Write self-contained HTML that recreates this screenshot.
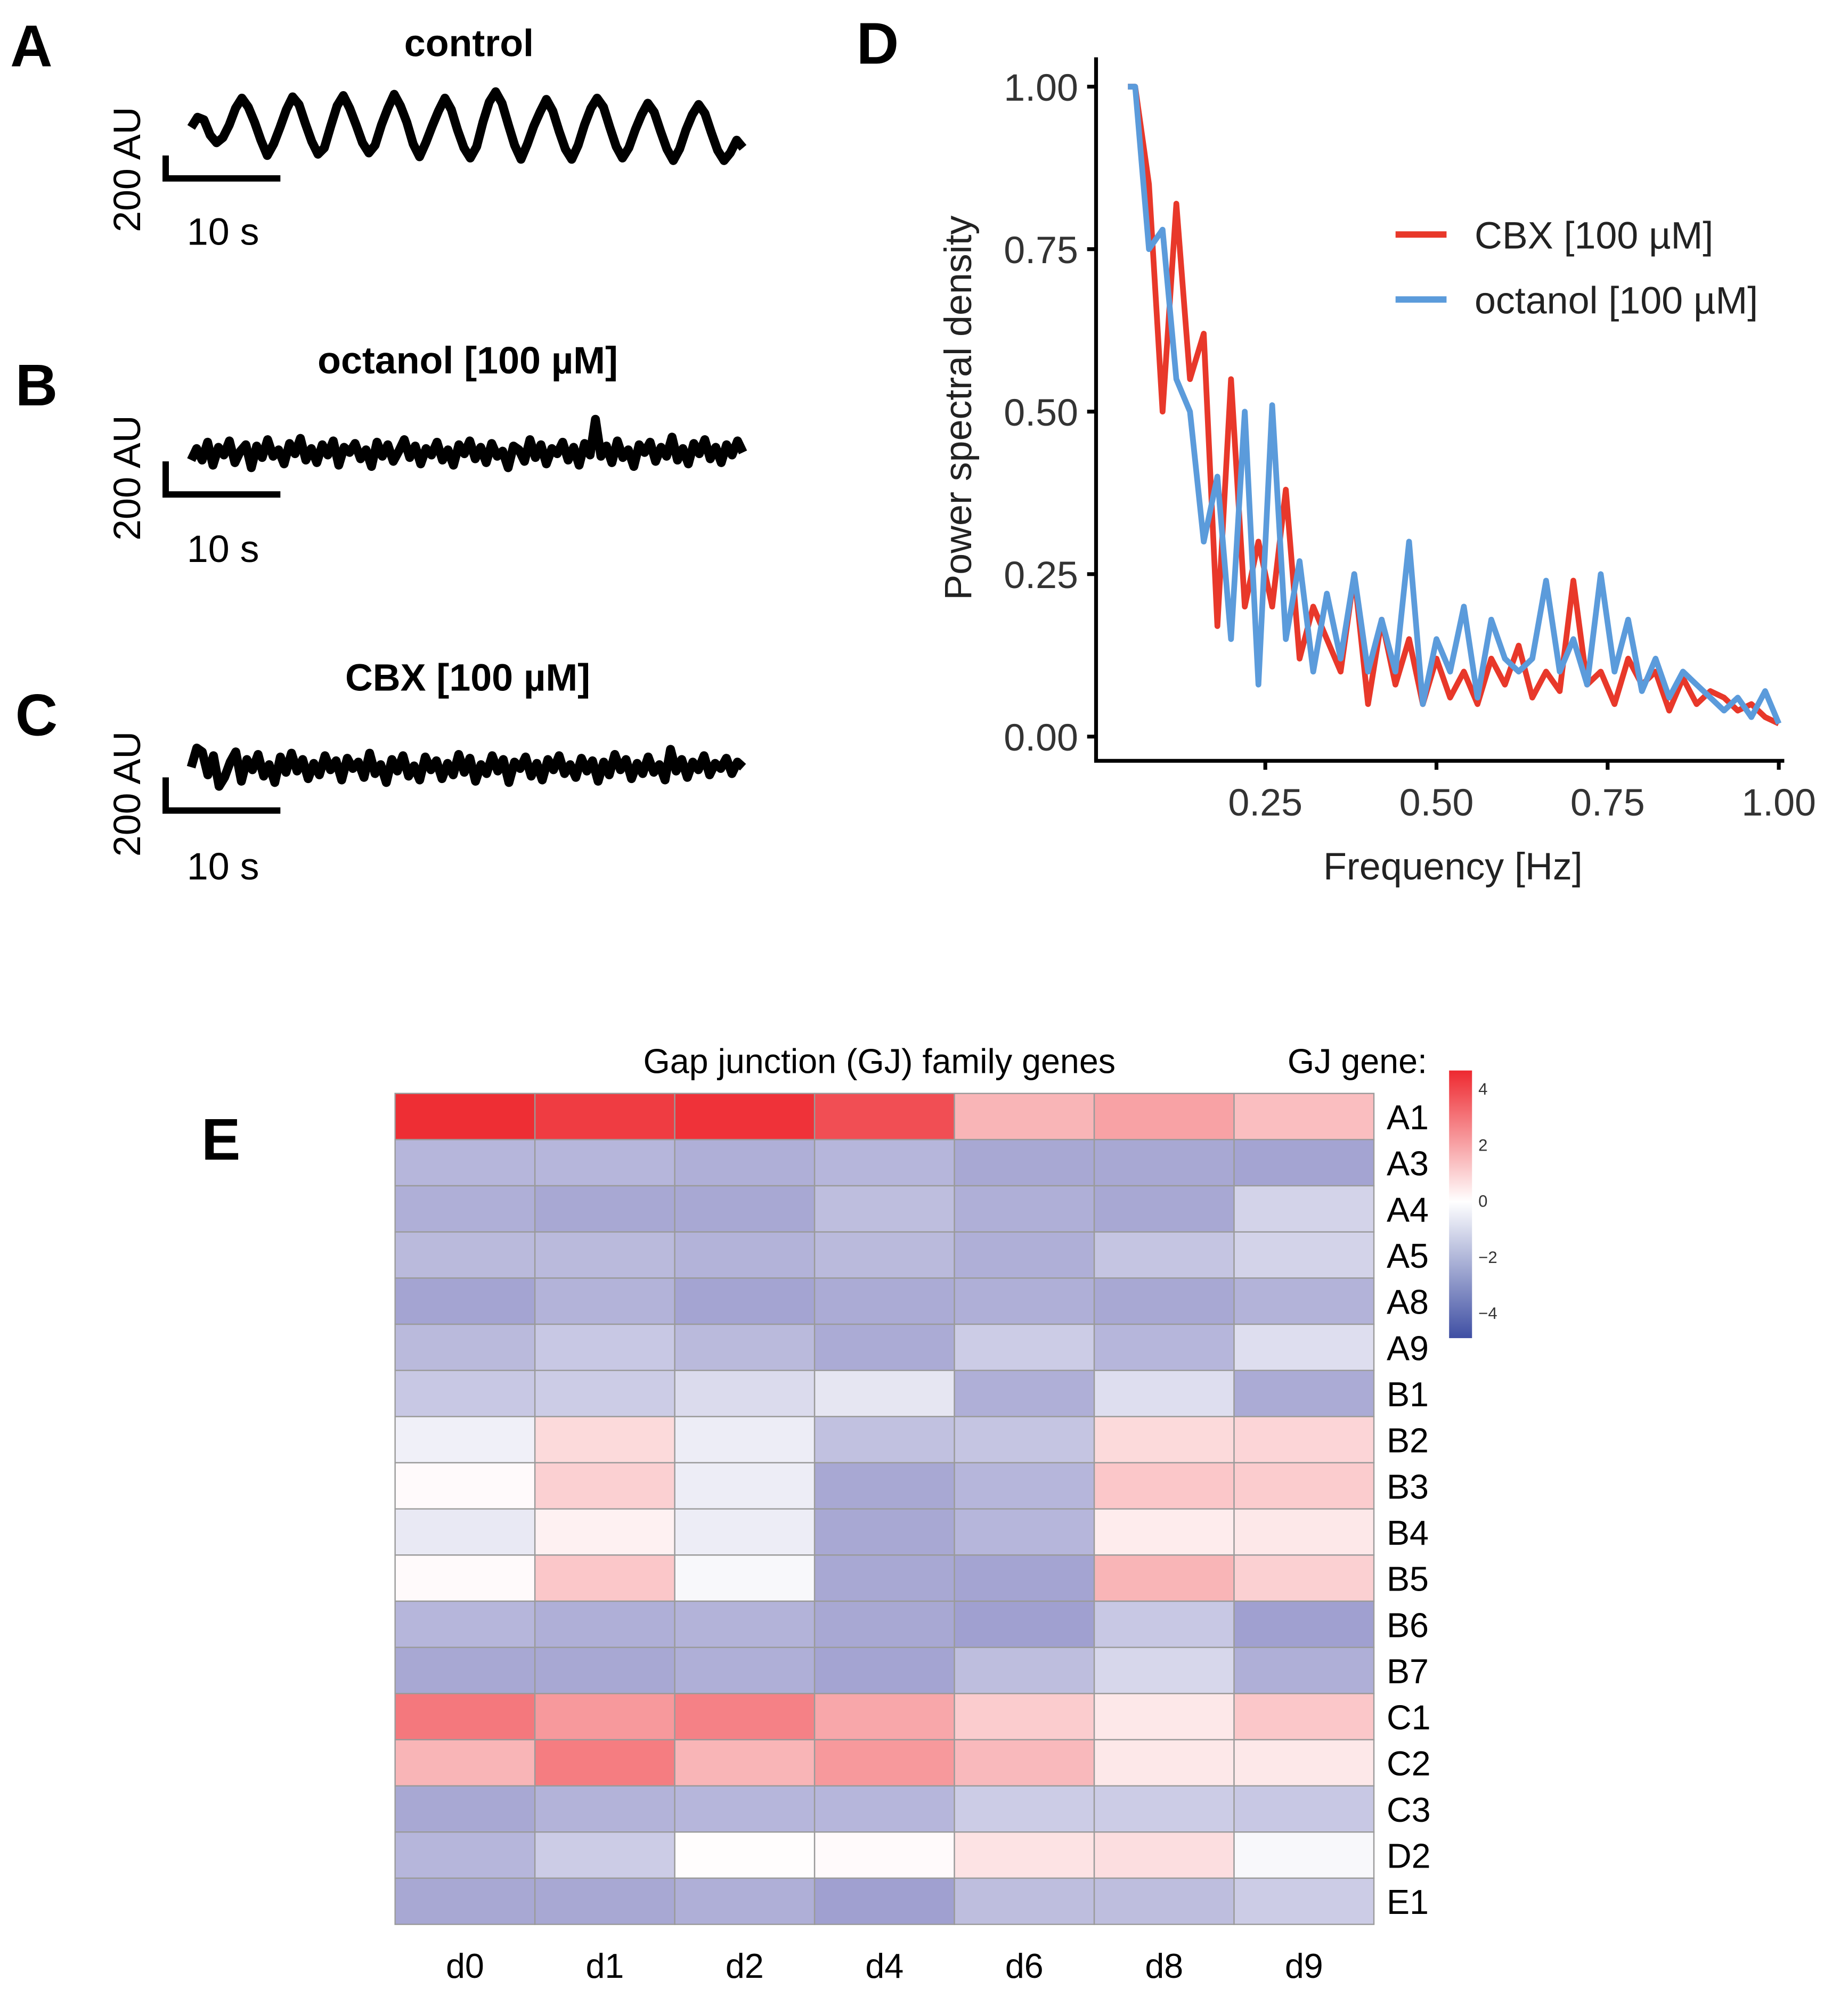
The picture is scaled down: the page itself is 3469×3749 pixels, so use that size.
<!DOCTYPE html>
<html><head><meta charset="utf-8"><style>html,body{margin:0;padding:0;background:#fff}svg{display:block}text{font-family:"Liberation Sans",sans-serif}</style></head>
<body>
<svg id="fig" xmlns="http://www.w3.org/2000/svg" width="3469" height="3749" viewBox="0 0 1450 1567" preserveAspectRatio="none">
<rect width="1450" height="1567" fill="#fff"/>
<g id="pA">
<text x="8" y="52" font-size="46" font-weight="bold">A</text>
<text x="368" y="44" font-size="30" font-weight="bold" text-anchor="middle">control</text>
<path d="M130,122V140H220" fill="none" stroke="#000" stroke-width="5"/>
<text transform="translate(110,133) rotate(-90)" font-size="30" text-anchor="middle">200 AU</text>
<text x="175" y="192" font-size="30" text-anchor="middle">10 s</text>
</g>
<g id="pB">
<text x="12" y="318" font-size="46" font-weight="bold">B</text>
<text x="367" y="293" font-size="30" font-weight="bold" text-anchor="middle">octanol [100 µM]</text>
<path d="M130,362V388H220" fill="none" stroke="#000" stroke-width="5"/>
<text transform="translate(110,375) rotate(-90)" font-size="30" text-anchor="middle">200 AU</text>
<text x="175" y="441" font-size="30" text-anchor="middle">10 s</text>
</g>
<g id="pC">
<text x="12" y="577" font-size="46" font-weight="bold">C</text>
<text x="367" y="542" font-size="30" font-weight="bold" text-anchor="middle">CBX [100 µM]</text>
<path d="M130,610V636H220" fill="none" stroke="#000" stroke-width="5"/>
<text transform="translate(110,623) rotate(-90)" font-size="30" text-anchor="middle">200 AU</text>
<text x="175" y="690" font-size="30" text-anchor="middle">10 s</text>
</g>
<g id="pD">
<text x="672" y="50" font-size="46" font-weight="bold">D</text>
<path d="M860,45V597H1400" fill="none" stroke="#000" stroke-width="3"/>
<text transform="translate(762,320) rotate(-90)" font-size="30" fill="#222" text-anchor="middle">Power spectral density</text>
<text x="1140" y="690" font-size="30" fill="#222" text-anchor="middle">Frequency [Hz]</text>
<line x1="1095" y1="184" x2="1135" y2="184" stroke="#E8382A" stroke-width="5"/>
<text x="1157" y="195" font-size="30" fill="#222">CBX [100 µM]</text>
<line x1="1095" y1="235" x2="1135" y2="235" stroke="#5B9BDB" stroke-width="5"/>
<text x="1157" y="246" font-size="30" fill="#222">octanol [100 µM]</text>
</g>
<g id="pE">
<text x="158" y="910" font-size="46" font-weight="bold">E</text>
<text x="690" y="842" font-size="27" text-anchor="middle">Gap junction (GJ) family genes</text>
<text x="1065" y="842" font-size="27" text-anchor="middle">GJ gene:</text>
</g>
<script>
const controlTrace=[0,80,60,-60,-120,-80,20,150,230,160,40,-100,-220,-130,0,140,240,180,30,-110,-210,-160,10,170,250,150,20,-120,-200,-140,20,150,260,170,40,-130,-230,-120,10,130,230,140,-20,-160,-240,-150,40,200,280,190,20,-140,-250,-130,10,120,220,130,-30,-170,-250,-140,20,150,230,160,0,-150,-240,-160,-20,100,190,120,-30,-170,-260,-170,-20,100,180,110,-40,-180,-260,-200,-100,-160];
const octanolTrace=[-60,30,-60,80,-100,40,-20,90,-80,10,60,-120,50,-40,100,-30,20,-90,70,-10,110,-60,30,-80,60,-20,90,-100,40,0,70,-50,20,-110,80,-30,60,-70,10,100,-40,50,-90,30,-20,80,-60,20,-100,60,-10,90,-50,40,-80,70,-30,10,-120,50,20,-70,100,-40,60,-90,30,-10,80,-60,40,-100,70,-20,260,-30,50,-80,90,-40,20,-110,60,0,80,-70,40,-30,120,-60,30,-90,70,-10,100,-50,40,-80,60,-20,90,0];
const cbxTrace=[0,150,120,-60,90,-150,-80,40,120,-110,60,-20,100,-70,20,-120,80,-40,110,-30,60,-90,30,-60,90,-20,50,-100,70,-10,40,-80,110,-50,20,-120,60,-30,90,-70,10,-100,80,-20,50,-90,30,-60,100,-40,70,-110,20,-50,90,-30,60,-120,40,-10,80,-70,30,-100,60,-20,90,-50,20,-80,70,-30,50,-110,40,-60,100,-20,60,-90,30,-50,80,-40,20,-100,140,-30,60,-80,40,-20,90,-60,30,-10,70,-50,40,0];
const psdFreq=[0.06,0.08,0.10,0.12,0.14,0.16,0.18,0.20,0.22,0.24,0.26,0.28,0.30,0.32,0.34,0.36,0.38,0.40,0.42,0.44,0.46,0.48,0.50,0.52,0.54,0.56,0.58,0.60,0.62,0.64,0.66,0.68,0.70,0.72,0.74,0.76,0.78,0.80,0.82,0.84,0.86,0.88,0.90,0.92,0.94,0.96,0.98,1.00];
const psdCBX=[1.0,0.85,0.5,0.82,0.55,0.62,0.17,0.55,0.2,0.3,0.2,0.38,0.12,0.2,0.15,0.1,0.25,0.05,0.18,0.08,0.15,0.05,0.12,0.06,0.1,0.05,0.12,0.08,0.14,0.06,0.1,0.07,0.24,0.08,0.1,0.05,0.12,0.08,0.1,0.04,0.09,0.05,0.07,0.06,0.04,0.05,0.03,0.02];
const psdOct=[1.0,0.75,0.78,0.55,0.5,0.3,0.4,0.15,0.5,0.08,0.51,0.15,0.27,0.1,0.22,0.12,0.25,0.1,0.18,0.1,0.3,0.05,0.15,0.1,0.2,0.06,0.18,0.12,0.1,0.12,0.24,0.1,0.15,0.08,0.25,0.1,0.18,0.07,0.12,0.06,0.1,0.08,0.06,0.04,0.06,0.03,0.07,0.02];
const yTicks=[0,0.25,0.5,0.75,1.0];
const yTickLabels=["0.00","0.25","0.50","0.75","1.00"];
const xTicks=[0.25,0.5,0.75,1.0];
const xTickLabels=["0.25","0.50","0.75","1.00"];
const genes=["A1","A3","A4","A5","A8","A9","B1","B2","B3","B4","B5","B6","B7","C1","C2","C3","D2","E1"];
const days=["d0","d1","d2","d4","d6","d8","d9"];
const heat=[
[4.5,4.2,4.4,3.8,1.6,2.0,1.4],
[-2.0,-2.0,-2.2,-2.0,-2.4,-2.4,-2.5],
[-2.2,-2.4,-2.4,-1.8,-2.2,-2.4,-1.2],
[-1.9,-1.9,-2.1,-1.9,-2.2,-1.6,-1.2],
[-2.5,-2.1,-2.5,-2.3,-2.2,-2.4,-2.1],
[-1.9,-1.5,-1.9,-2.3,-1.4,-2.0,-0.9],
[-1.5,-1.4,-1.0,-0.7,-2.2,-0.9,-2.3],
[-0.4,0.8,-0.5,-1.7,-1.6,0.8,0.9],
[0.1,1.0,-0.5,-2.4,-2.0,1.2,1.1],
[-0.6,0.3,-0.5,-2.4,-2.0,0.4,0.5],
[0.1,1.2,-0.2,-2.4,-2.5,1.6,1.0],
[-2.0,-2.2,-2.1,-2.4,-2.6,-1.5,-2.6],
[-2.4,-2.4,-2.2,-2.5,-1.8,-1.1,-2.2],
[2.9,2.2,2.7,1.9,1.1,0.5,1.2],
[1.6,2.8,1.6,2.2,1.5,0.5,0.5],
[-2.4,-2.1,-2.0,-2.0,-1.4,-1.4,-1.5],
[-2.0,-1.4,0.05,0.1,0.6,0.7,-0.2],
[-2.4,-2.4,-2.2,-2.6,-1.8,-1.8,-1.4]];
const cbTicks=[4,2,0,-2,-4];
const cbTickLabels=["4","2","0","\u22122","\u22124"];

const NS="http://www.w3.org/2000/svg";
function mk(tag,attrs,parent){const e=document.createElementNS(NS,tag);for(const k in attrs)e.setAttribute(k,attrs[k]);parent.appendChild(e);return e;}

function drawTrace(arr,base,gid,name){
  const g=document.getElementById(gid);
  const x0=150,x1=583,sc=0.1;
  const pts=arr.map((v,i)=>(x0+(x1-x0)*i/(arr.length-1)).toFixed(1)+","+(base-v*sc).toFixed(1)).join(" ");
  const p=mk("polyline",{points:pts,fill:"none",stroke:"#000","stroke-width":7,"stroke-linejoin":"round"},g);
  
  
}
drawTrace(controlTrace,100,"pA","trace-control");
drawTrace(octanolTrace,355,"pB","trace-octanol");
drawTrace(cbxTrace,602,"pC","trace-cbx");

const gD=document.getElementById("pD");
const xs=f=>858.5+f*537.2;
const ys=v=>578-v*510;
yTicks.forEach((t,i)=>{
  const l=mk("line",{x1:853,x2:860,y1:ys(t),y2:ys(t),stroke:"#000","stroke-width":3},gD);
  
  
  const tx=mk("text",{x:846,y:ys(t)+11,"font-size":30,fill:"#333","text-anchor":"end"},gD);
  tx.textContent=yTickLabels[i];
  
  
});
xTicks.forEach((t,i)=>{
  const l=mk("line",{x1:xs(t),x2:xs(t),y1:597,y2:604,stroke:"#000","stroke-width":3},gD);
  
  
  const tx=mk("text",{x:xs(t),y:640,"font-size":30,fill:"#333","text-anchor":"middle"},gD);
  tx.textContent=xTickLabels[i];
  
  
});
function psdLine(vals,color,name){
  const pts=["885,"+ys(1.0)].concat(vals.map((v,i)=>xs(psdFreq[i]).toFixed(1)+","+ys(v).toFixed(1))).join(" ");
  const p=mk("polyline",{points:pts,fill:"none",stroke:color,"stroke-width":4.5,"stroke-linejoin":"round"},gD);
  
  
}
psdLine(psdCBX,"#E8382A","line-cbx");
psdLine(psdOct,"#5B9BDB","line-octanol");

const gE=document.getElementById("pE");
const hx0=310,hx1=1078,hy0=858,hy1=1510;
const cw=(hx1-hx0)/days.length,ch=(hy1-hy0)/genes.length;
function col(v){
  if(v>=0){const t=Math.min(v/4.6,1);return `rgb(${Math.round(255-t*17)},${Math.round(255-t*214)},${Math.round(255-t*207)})`;}
  const t=Math.min(-v/4.4,1);return `rgb(${Math.round(255-t*160)},${Math.round(255-t*160)},${Math.round(255-t*80)})`;
}
heat.forEach((row,r)=>row.forEach((v,c)=>{
  const rc=mk("rect",{x:hx0+c*cw,y:hy0+r*ch,width:cw,height:ch,fill:col(v),stroke:"#9a9a9a","stroke-width":1},gE);
  
  
}));
genes.forEach((g,r)=>{
  const t=mk("text",{x:1088,y:hy0+r*ch+ch/2+10,"font-size":27},gE);
  t.textContent=g;
  
  
});
days.forEach((d,c)=>{
  const t=mk("text",{x:hx0+c*cw+cw/2,y:1552,"font-size":27,"text-anchor":"middle"},gE);
  t.textContent=d;
  
  
});
const defs=mk("defs",{},gE);
const lg=mk("linearGradient",{id:"cbg",x1:0,y1:0,x2:0,y2:1},defs);
[[0,"#EE2930"],[0.49,"#ffffff"],[1,"#3F4FA3"]].forEach(s=>mk("stop",{offset:s[0],"stop-color":s[1]},lg));
const cb=mk("rect",{x:1137,y:840,width:18,height:210,fill:"url(#cbg)"},gE);


cbTicks.forEach((v,i)=>{
  const t=mk("text",{x:1160,y:943-v*22+4,"font-size":13,fill:"#333"},gE);
  t.textContent=cbTickLabels[i];
  
  
});
</script>
</svg>
</body></html>
